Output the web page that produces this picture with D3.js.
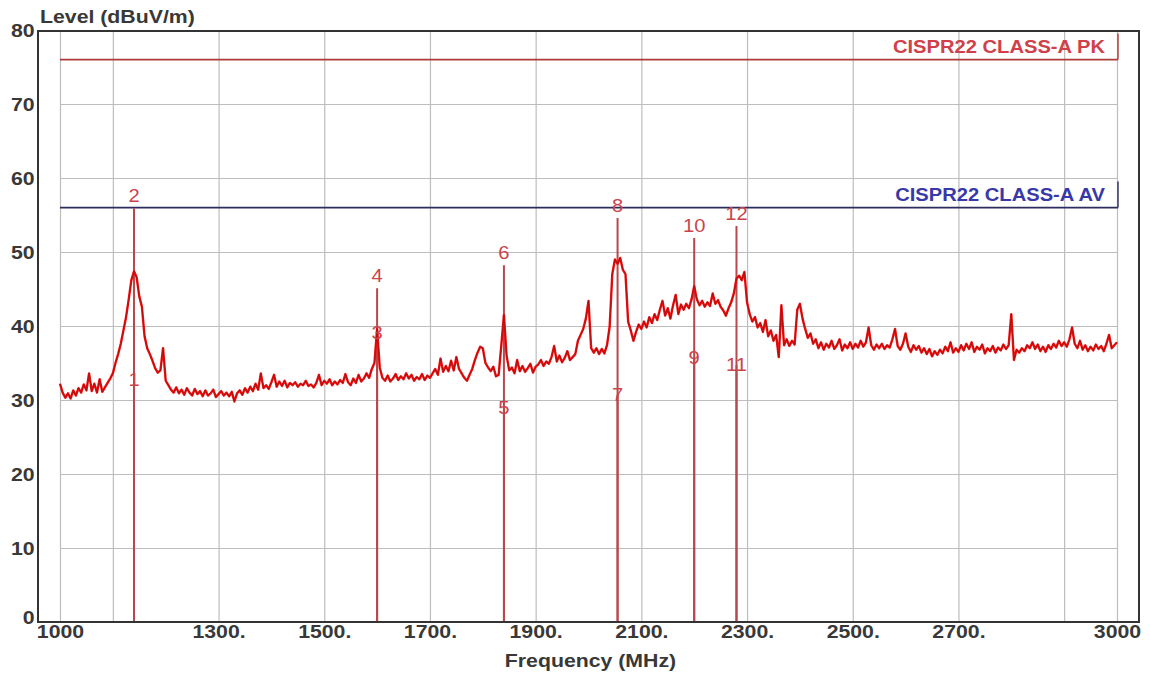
<!DOCTYPE html>
<html>
<head>
<meta charset="utf-8">
<script src="https://cdn.jsdelivr.net/npm/d3@7"></script>
<style>
  body { margin: 0; background: #fff; }
  svg { display: block; }
  text { font-family: "Liberation Sans", Arial, sans-serif; }
</style>
</head>
<body>
<svg id="chart" width="1150" height="673"></svg>
<script>
// Radiated emission scan, 1–3 GHz, sampled every 5 MHz
const freqStart = 1000;
const freqStep = 5;
const level = [
  // 1000 – 1100
  32.2,31.0,30.3,30.9,30.2,31.3,30.6,31.6,31.0,32.1,31.3,33.6,31.2,32.2,31.0,32.8,31.1,31.7,32.3,32.9,33.6,
  // 1105 – 1200
  35.0,36.2,37.6,39.4,41.2,43.6,46.2,47.4,46.6,44.0,42.6,38.6,37.0,36.2,35.3,34.3,33.7,34.0,37.0,32.6,
  // 1205 – 1300
  32.0,31.4,31.0,31.7,30.9,31.4,30.7,31.6,31.0,30.6,31.5,30.8,31.2,30.5,31.3,30.6,30.9,31.4,30.4,30.8,
  // 1305 – 1400
  31.2,30.6,31.0,30.5,31.1,29.8,30.9,31.3,30.7,31.6,31.0,31.8,31.2,32.2,31.4,33.6,31.6,32.0,31.5,32.4,
  // 1405 – 1500
  33.4,31.8,32.5,31.9,32.6,31.7,32.3,32.0,32.4,31.8,32.2,32.0,32.6,31.9,32.1,31.7,32.3,33.4,32.0,32.6,
  // 1505 – 1600
  32.2,32.8,32.0,32.5,32.1,32.7,32.3,33.5,32.4,32.0,32.9,32.3,33.4,32.5,32.9,33.6,33.0,34.2,35.0,39.6,
  // 1605 – 1700
  34.4,33.0,32.6,33.3,32.5,32.9,33.5,32.7,33.2,32.8,33.6,32.9,33.4,32.6,33.1,32.8,33.5,32.7,33.3,33.0,
  // 1705 – 1800
  33.6,34.2,33.4,35.6,33.8,34.6,33.9,35.3,34.0,35.8,34.2,33.6,33.0,32.6,33.4,34.2,35.4,36.4,37.2,37.0,
  // 1805 – 1900
  35.0,34.4,33.9,34.5,33.2,33.4,37.4,41.5,36.0,34.0,34.4,33.6,35.4,33.9,34.6,33.8,34.3,34.9,33.7,34.5,
  // 1905 – 2000
  34.8,35.4,34.6,35.2,34.9,35.8,37.3,35.2,36.0,35.1,35.7,36.6,35.4,35.8,36.2,38.0,38.8,39.6,41.0,43.4,
  // 2005 – 2100
  37.0,36.4,37.0,36.2,36.9,36.3,37.4,39.9,47.0,49.0,48.4,49.2,47.6,47.0,40.6,39.4,38.0,39.2,40.2,39.6,
  // 2105 – 2200
  40.6,39.8,41.2,40.4,41.6,40.8,42.2,43.4,41.4,42.4,41.0,42.8,44.2,41.6,42.9,42.2,43.0,42.4,43.6,45.4,
  // 2205 – 2300
  43.6,42.8,43.4,42.6,43.2,42.7,44.4,43.0,43.5,42.6,42.1,41.4,42.4,43.2,44.4,46.4,46.8,46.2,47.3,43.2,
  // 2305 – 2400
  41.6,40.6,41.2,39.8,40.4,39.2,40.8,38.6,39.4,38.0,38.8,35.8,42.8,37.4,38.2,37.3,38.0,37.5,42.2,43.0,
  // 2405 – 2500
  41.0,39.6,38.4,39.0,37.6,38.2,37.0,37.8,36.8,37.6,37.1,38.0,36.9,37.4,38.2,36.7,37.5,37.0,37.8,36.9,
  // 2505 – 2600
  37.6,37.1,38.0,37.2,37.8,39.8,37.4,36.8,37.5,37.0,37.6,36.9,37.4,37.1,38.2,39.6,37.3,36.8,37.6,39.0,
  // 2605 – 2700
  37.2,36.5,37.4,36.8,37.3,36.4,37.0,36.2,36.9,35.9,36.6,36.1,36.8,36.3,37.2,36.6,37.8,36.4,37.0,36.5,
  // 2705 – 2800
  37.4,36.7,37.6,36.9,37.8,36.5,37.2,36.8,37.5,36.3,37.0,36.6,37.3,36.4,37.1,36.7,37.5,36.9,37.4,41.6,
  // 2805 – 2900
  35.4,36.8,36.4,37.0,36.6,37.4,37.0,37.8,36.9,37.5,36.6,37.2,36.5,37.4,36.9,37.6,37.1,38.0,37.3,37.8,
  // 2905 – 3000
  37.2,38.2,39.8,37.6,37.0,38.0,36.8,37.4,36.6,37.2,36.7,37.5,36.9,37.3,36.6,37.6,38.8,37.0,37.4,37.8
];

// Axis ticks
const yTicks = [0, 10, 20, 30, 40, 50, 60, 70, 80];
const xGridFreqs = [1000, 1100, 1300, 1500, 1700, 1900, 2100, 2300, 2500, 2700, 2900, 3000];
const xLabelFreqs = [1000, 1300, 1500, 1700, 1900, 2100, 2300, 2500, 2700, 3000];
const xLabelTexts = ["1000", "1300.", "1500.", "1700.", "1900.", "2100.", "2300.", "2500.", "2700.", "3000"];

// Limit lines
const limitNames = ["CISPR22 CLASS-A PK", "CISPR22 CLASS-A AV"];
const limitLevels = [76, 56];

// Marker readings (odd = AV, even = PK)
const markerNo = [1, 2, 3, 4, 5, 6, 7, 8, 9, 10, 11, 12];
const markerFreq = [1140, 1140, 1600, 1600, 1840, 1840, 2055, 2055, 2200, 2200, 2280, 2280];
const markerLevel = [32.7, 55.9, 39.0, 45.1, 28.9, 48.2, 30.7, 54.6, 35.7, 51.9, 34.7, 53.5];

const svg = d3.select("#chart");
const W = 1150, H = 673;
const frame = { left: 38, top: 31, right: 1139, bottom: 622 };
const plot = { left: 60, right: 1117, top: 30, bottom: 622 };
const SX = 1.12; // horizontal text stretch

const x = d3.scaleLinear().domain([1000, 3000]).range([plot.left, plot.right]);
const y = d3.scaleLinear().domain([0, 80]).range([plot.bottom, plot.top]);

svg.append("rect").attr("width", W).attr("height", H).attr("fill", "#fff");

// vertical grid
const gx = svg.append("g")
  .attr("transform", `translate(0,${frame.bottom})`)
  .call(d3.axisBottom(x).tickValues(xGridFreqs).tickSize(-(frame.bottom - frame.top)).tickFormat(""));
gx.select(".domain").remove();
gx.selectAll("line").attr("stroke", "#bdbdbd").attr("stroke-width", 1.2);

// horizontal grid
const gy = svg.append("g")
  .attr("transform", `translate(${plot.left},0)`)
  .call(d3.axisLeft(y).tickValues(yTicks.slice(1, -1)).tickSize(-(plot.right - plot.left)).tickFormat(""));
gy.select(".domain").remove();
gy.selectAll("line").attr("stroke", "#bdbdbd").attr("stroke-width", 1.2);

// limit lines and their labels
const limitStroke = ["#b03a3a", "#2c2c5e"];
const limitText = ["#d0404a", "#3838a8"];
limitLevels.forEach((lv, i) => {
  const yy = y(lv);
  svg.append("line")
    .attr("x1", plot.left).attr("x2", plot.right + 1)
    .attr("y1", yy).attr("y2", yy)
    .attr("stroke", limitStroke[i]).attr("stroke-width", 1.6);
  svg.append("line")
    .attr("x1", plot.right + 1).attr("x2", plot.right + 1)
    .attr("y1", yy).attr("y2", yy - 26)
    .attr("stroke", limitStroke[i]).attr("stroke-width", 1.4);
  svg.append("text")
    .attr("transform", `translate(${plot.right - 12},${yy - 7}) scale(${SX},1)`)
    .attr("text-anchor", "end")
    .attr("font-size", 18).attr("font-weight", "bold")
    .attr("fill", limitText[i])
    .text(limitNames[i]);
});

// marker lines
const markerColor = "#b8484c";
svg.append("g").selectAll("line")
  .data(markerNo)
  .join("line")
  .attr("x1", (d, i) => x(markerFreq[i])).attr("x2", (d, i) => x(markerFreq[i]))
  .attr("y1", y(0)).attr("y2", (d, i) => y(markerLevel[i]))
  .attr("stroke", markerColor).attr("stroke-width", 2);

// emission trace
const pts = level.map((v, i) => [freqStart + i * freqStep, v]);
const line = d3.line().x(d => x(d[0])).y(d => y(d[1]));
svg.append("path").datum(pts)
  .attr("d", line).attr("fill", "none")
  .attr("stroke", "#ee1111").attr("stroke-width", 2.4).attr("stroke-linejoin", "round");
svg.append("path").datum(pts)
  .attr("d", line).attr("fill", "none")
  .attr("stroke", "#6a0808").attr("stroke-width", 0.7).attr("stroke-opacity", 0.55);

// marker numbers
svg.append("g").selectAll("text")
  .data(markerNo)
  .join("text")
  .attr("transform", (d, i) => {
    const px = x(markerFreq[i]);
    const py = d % 2 === 0 ? y(markerLevel[i]) - 6 : y(markerLevel[i]) + 6;
    return `translate(${px},${py}) scale(${SX},1)`;
  })
  .attr("text-anchor", "middle")
  .attr("font-size", 18)
  .attr("fill", "#c8454c")
  .text(d => d);

// frame
svg.append("rect")
  .attr("x", frame.left).attr("y", frame.top)
  .attr("width", frame.right - frame.left).attr("height", frame.bottom - frame.top)
  .attr("fill", "none").attr("stroke", "#333").attr("stroke-width", 2);

// y axis labels
const ay = svg.append("g")
  .attr("transform", `translate(${frame.left},0)`)
  .call(d3.axisLeft(y).tickValues(yTicks).tickSize(0).tickPadding(3));
ay.select(".domain").remove();
ay.selectAll("text")
  .attr("font-size", 19).attr("font-weight", "bold").attr("fill", "#383838")
  .attr("font-family", null)
  .attr("dy", d => d === 0 ? "0.1em" : "0.35em")
  .attr("transform", `scale(${SX},1)`);

// x axis labels
const ax = svg.append("g")
  .attr("transform", `translate(0,${frame.bottom})`)
  .call(d3.axisBottom(x).tickValues(xLabelFreqs).tickSize(0).tickPadding(3)
    .tickFormat((d, i) => xLabelTexts[i]));
ax.select(".domain").remove();
ax.selectAll("text")
  .attr("font-size", 19).attr("font-weight", "bold").attr("fill", "#383838")
  .attr("font-family", null)
  .attr("transform", `scale(${SX},1)`);

// axis titles
svg.append("text")
  .attr("transform", `translate(${frame.left + 2},23) scale(${SX},1)`)
  .attr("font-size", 19).attr("font-weight", "bold").attr("fill", "#383838")
  .text("Level (dBuV/m)");
svg.append("text")
  .attr("transform", `translate(${(plot.left + plot.right) / 2 + 2},667) scale(${SX},1)`)
  .attr("text-anchor", "middle")
  .attr("font-size", 19).attr("font-weight", "bold").attr("fill", "#383838")
  .text("Frequency (MHz)");
</script>
</body>
</html>
